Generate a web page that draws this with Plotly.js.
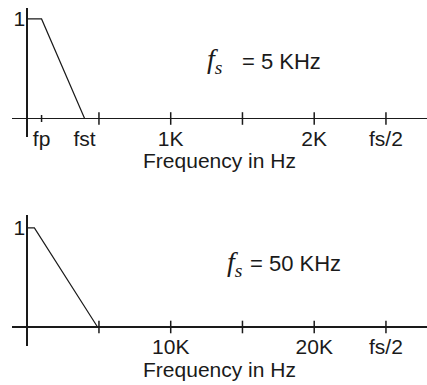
<!DOCTYPE html>
<html>
<head>
<meta charset="utf-8">
<script src="https://cdn.plot.ly/plotly-3.0.1.min.js"></script>
<style>
  html, body { margin: 0; padding: 0; background: #fff; }
  #chart { width: 427px; height: 385px; }
</style>
</head>
<body>
<div id="chart"></div>
<script>
// fs = 5 KHz response
const topFreq = [0, 100, 400];
const topGain = [1, 1, 0];
const topTickVals = [100, 400, 1000, 2000, 2500];
const topTickText = ['fp', 'fst', '1K', '2K', 'fs/2'];
const topMarks = [500, 1000, 1500, 2000, 2500];
const topSmallMarks = [100];

// fs = 50 KHz response
const botFreq = [0, 500, 4900];
const botGain = [1, 1, 0];
const botTickVals = [10000, 20000, 25000];
const botTickText = ['10K', '20K', 'fs/2'];
const botMarks = [5000, 10000, 15000, 20000, 25000];

const ink = '#1a1a1a';
const sans = 'Liberation Sans, Arial, sans-serif';
const serif = 'Liberation Serif, Times New Roman, serif';

function curve(x, y, xa, ya) {
    return { x: x, y: y, xaxis: xa, yaxis: ya, mode: 'lines', type: 'scatter',
        line: { color: ink, width: 1.2 }, hoverinfo: 'skip' };
}
function marks(x, size, xa, ya) {
    return { x: x, y: x.map(() => 0), xaxis: xa, yaxis: ya, mode: 'markers', type: 'scatter',
        marker: { symbol: 'line-ns-open', size: size, color: ink, line: { color: ink, width: 1.5 } },
        hoverinfo: 'skip' };
}

const data = [
    curve(topFreq, topGain, 'x', 'y'),
    marks(topMarks, 9, 'x', 'y'),
    marks(topSmallMarks, 5, 'x', 'y'),
    curve(botFreq, botGain, 'x2', 'y2'),
    marks(botMarks, 9, 'x2', 'y2')
];

function xAxis(range, vals, text, pos) {
    return {
        domain: [12 / 427, 1], range: range, anchor: 'free',
        position: pos, showgrid: false, showline: false,
        zeroline: true, zerolinecolor: ink, zerolinewidth: 1.6,
        tickvals: vals, ticktext: text, ticks: '', ticklabelstandoff: 5,
        tickfont: { family: sans, size: 21, color: ink },
        title: { text: 'Frequency in Hz', font: { family: sans, size: 21, color: ink }, standoff: 0 },
        fixedrange: true
    };
}
function yAxis(domain, range) {
    return {
        domain: domain, range: range, anchor: 'free', position: 27.25 / 427,
        showgrid: false, showline: false,
        zeroline: true, zerolinecolor: ink, zerolinewidth: 1.6,
        tickvals: [1], ticktext: ['1'], ticks: '', ticklabelstandoff: 2,
        tickfont: { family: sans, size: 21, color: ink },
        fixedrange: true
    };
}

const layout = {
    width: 427, height: 385,
    margin: { l: 0, r: 0, t: 0, b: 0 },
    paper_bgcolor: '#fff', plot_bgcolor: '#fff',
    showlegend: false,
    xaxis: xAxis([-106, 2786], topTickVals, topTickText, 1 - 118.5 / 385),
    yaxis: yAxis([1 - 137 / 385, 1 - 8 / 385], [-0.186, 1.11]),
    xaxis2: xAxis([-1060, 27860], botTickVals, botTickText, 1 - 327 / 385),
    yaxis2: yAxis([1 - 346 / 385, 1 - 215 / 385], [-0.192, 1.131]),
    annotations: [
        { xref: 'x', yref: 'y', x: 1310, y: 0.58, showarrow: false,
          text: '<i>f</i><sub><i>s</i></sub>', font: { family: serif, size: 28, color: ink } },
        { xref: 'x', yref: 'y', x: 1774, y: 0.568, showarrow: false,
          text: '= 5 KHz', font: { family: sans, size: 22, color: ink } },
        { xref: 'x2', yref: 'y2', x: 14450, y: 0.64, showarrow: false,
          text: '<i>f</i><sub><i>s</i></sub>', font: { family: serif, size: 28, color: ink } },
        { xref: 'x2', yref: 'y2', x: 18725, y: 0.646, showarrow: false,
          text: '= 50 KHz', font: { family: sans, size: 22, color: ink } }
    ]
};

Plotly.newPlot('chart', data, layout, { displayModeBar: false, staticPlot: true });
</script>
</body>
</html>
